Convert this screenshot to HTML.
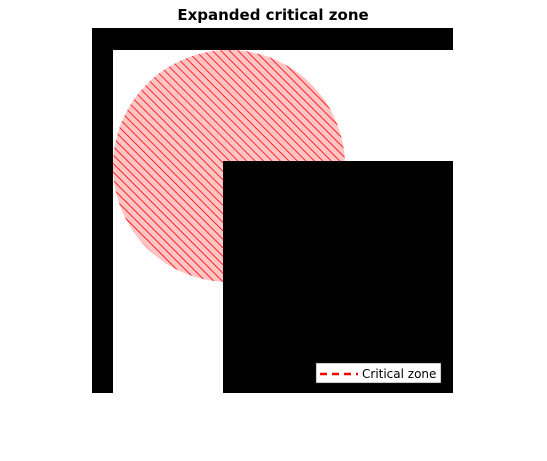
<!DOCTYPE html>
<html><head><style>
body{margin:0;background:#fff;}
svg text{font-family:"DejaVu Sans","Liberation Sans",sans-serif;}
</style></head><body>
<svg width="547" height="456">
<defs>
<pattern id="h" patternUnits="userSpaceOnUse" width="6" height="6" patternTransform="rotate(-45)">
<rect width="6" height="6" fill="#ffc4c4"/>
<line x1="0" y1="0" x2="0" y2="6" stroke="#f00" stroke-width="1.6"/>
</pattern>
<clipPath id="c"><rect x="113" y="50" width="340" height="343"/></clipPath>
</defs>
<rect width="547" height="456" fill="#fff"/>
<text x="273" y="20" text-anchor="middle" font-size="15" font-weight="bold">Expanded critical zone</text>
<rect x="92" y="28" width="361" height="22" fill="#000"/>
<rect x="92" y="28" width="21" height="365" fill="#000"/>
<circle cx="229" cy="166" r="116" fill="url(#h)" clip-path="url(#c)"/>
<rect x="223" y="161" width="230" height="232" fill="#000"/>
<g>
<rect x="316" y="363" width="125" height="20" fill="#fff" stroke="#333" stroke-width="0.5"/>
<line x1="320" y1="374" x2="358" y2="374" stroke="#f00" stroke-width="2.5" stroke-dasharray="7,5"/>
<text x="362" y="378" font-size="12">Critical zone</text>
</g>
</svg>
</body></html>
